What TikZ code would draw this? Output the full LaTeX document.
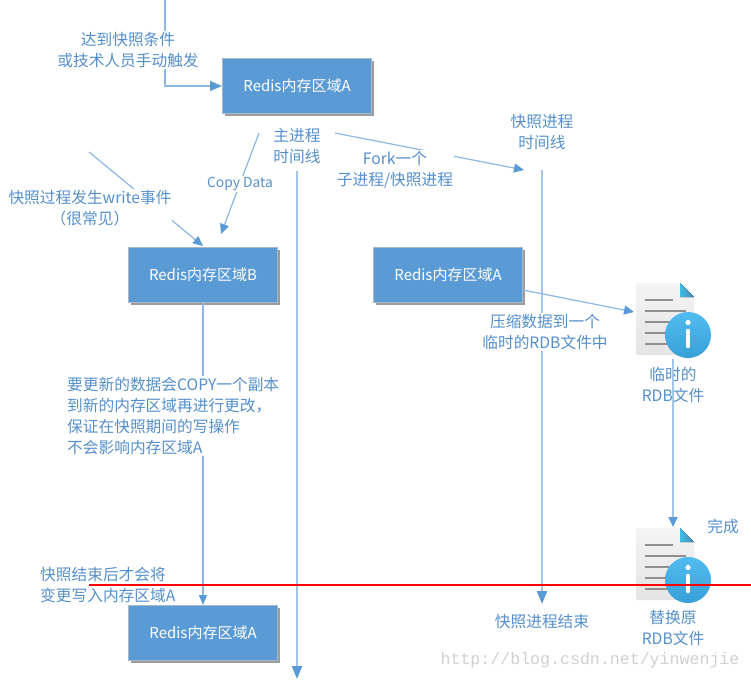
\documentclass[tikz,border=0pt]{standalone}
\usepackage{fontspec}
\setmainfont{Noto Sans CJK SC}
\setmonofont{Liberation Mono}
\usetikzlibrary{arrows.meta,shadows,calc}
\definecolor{boxblue}{HTML}{5B9BD5}
\definecolor{boxedge}{HTML}{A9B8C6}
\definecolor{linkblue}{HTML}{8DB8E2}
\definecolor{timeblue}{HTML}{A3C5E8}
\definecolor{labelblue}{HTML}{5590CC}
\definecolor{pagegray}{HTML}{E4E4E4}
\definecolor{pagegraytop}{HTML}{F4F4F4}
\definecolor{rule}{HTML}{8F8F8F}
\definecolor{infotop}{HTML}{52BBF0}
\definecolor{infobottom}{HTML}{37A0D6}
\tikzset{
  x=1pt,y=-1pt,
  memorybox/.style={draw=boxedge,line width=1pt,fill=boxblue,text=white,minimum width=149pt,minimum height=55pt,inner sep=0pt,
    font=\fontsize{15}{17}\selectfont,drop shadow={shadow xshift=2.5pt,shadow yshift=-2.5pt,fill=black!55,opacity=.7}},
  lbl/.style={fill=white,text=labelblue,inner sep=1pt,align=center,font=\fontsize{15.7}{21}\selectfont},
  bare/.style={text=labelblue,inner sep=0pt,align=center,font=\fontsize{15.7}{21}\selectfont},
  link/.style={draw=linkblue,line width=1.2pt,-{Triangle[length=10pt,width=9pt,color=boxblue]}},
  timeline/.style={draw=timeblue,line width=2pt,-{Triangle[length=13pt,width=10pt,color=boxblue]}},
  filearea/.style={minimum width=58pt,minimum height=72pt,inner sep=0pt},
}
\newcommand{\fileicon}[1]{%
  \begin{scope}[shift={(#1)}]
    \shade[top color=pagegraytop,bottom color=pagegray,rounded corners=1.5pt] (-29,-36) -- (15,-36) -- (29,-22) -- (29,36) -- (-29,36) -- cycle;
    \fill[left color=boxblue!65!cyan,right color=boxblue!85!black] (15,-36) -- (29,-22) -- (15,-22) -- cycle;
    \foreach \yy/\xx in {-19/8,-8/21,3/21,14/21,25/21}
      \draw[rule,line width=2pt] (-20,\yy) -- (\xx,\yy);
    \shade[top color=infotop,bottom color=infobottom] (23,16) circle (23);
    \fill[white] (23,3.5) circle (2.6);
    \draw[white,line width=4.6pt,line cap=round] (23,12) -- (23,27);
  \end{scope}}
\begin{document}
\begin{tikzpicture}
\useasboundingbox (0,0) rectangle (751,680);
\fill[white] (0,0) rectangle (751,680);
% anchors of the free ends
\coordinate (trigstart) at (165,0);
\coordinate (trigbend) at (165,86);
\coordinate (maintop) at (297,171);
\coordinate (mainend) at (297,679);
\coordinate (snaptop) at (542,170);
\coordinate (snapend) at (542,604);
\coordinate (forkstart) at (335,133);
\coordinate (forkend) at (524,170);
\coordinate (copystart) at (259,133);
\coordinate (copyend) at (221,234);
\coordinate (writestart) at (89,152);
\coordinate (writeend) at (203,246);
\coordinate (compstart) at (523,290);
\coordinate (compend) at (634,312);
\coordinate (tmpstart) at (673,359);
\coordinate (tmpend) at (673,527);
\coordinate (redstart) at (89,585);
\coordinate (redend) at (751,585);
% boxes
\node[memorybox] (boxa) at (297,86) {Redis内存区域A};
\node[memorybox] (boxb) at (203,275) {Redis内存区域B};
\node[memorybox] (boxc) at (448,275) {Redis内存区域A};
\node[memorybox] (boxd) at (203,633) {Redis内存区域A};
\node[filearea] (filea) at (665,319) {};
\node[filearea] (fileb) at (665,564) {};
% connectors
\draw[timeline] (maintop) -- (mainend);
\draw[timeline] (snaptop) -- (snapend);
\draw[draw=linkblue,line width=1.2pt,-{Triangle[length=12pt,width=10pt,color=boxblue]}] (trigstart) -- (trigbend) -- (boxa.west);
\draw[link] (forkstart) -- (forkend);
\draw[link] (copystart) -- (copyend);
\draw[link] (writestart) -- (writeend);
\draw[draw=linkblue,line width=1.2pt,-{Triangle[length=10pt,width=8pt,color=boxblue]}] (boxb.south) -- (boxd.north);
\draw[link] (compstart) -- (compend);
% icons
\fileicon{filea.center}
\fileicon{fileb.center}
% labels on connectors
\node[lbl] (l1) at (128,50) {达到快照条件\\或技术人员手动触发};
\node[lbl] (l2) at (297,146) {主进程\\时间线};
\node[lbl] (l3) at (542,132) {快照进程\\时间线};
\node[lbl] (l4) at (395,170) {Fork一个\\子进程/快照进程};
\node[lbl,font=\fontsize{13.8}{16}\selectfont] (l5) at (240,184) {Copy Data};
\node[lbl] (l6) at (90,208) {快照过程发生write事件\\（很常见）};
\node[lbl,align=left,anchor=west] (l7) at (66,416) {要更新的数据会COPY一个副本\\到新的内存区域再进行更改，\\保证在快照期间的写操作\\不会影响内存区域A};
\node[lbl] (l8) at (545,332) {压缩数据到一个\\临时的RDB文件中};
\node[bare] (l9) at (673,385) {临时的\\RDB文件};
\draw[draw=timeblue,line width=1.6pt,-{Triangle[length=10pt,width=9pt,color=boxblue]}] (tmpstart) -- (tmpend);
\node[bare] (l10) at (723,527) {完成};
\node[bare,align=left,anchor=west] (l11) at (40,585) {快照结束后才会将\\变更写入内存区域A};
\node[bare] (l12) at (542,622) {快照进程结束};
\node[bare] (l13) at (673,628) {替换原\\RDB文件};
\draw[red,line width=1.6pt] (redstart) -- (redend);
\node[text=black!18,font=\ttfamily\fontsize{16.6}{18}\selectfont,inner sep=0pt] (mark) at (590,660) {http://blog.csdn.net/yinwenjie};
\end{tikzpicture}
\end{document}
